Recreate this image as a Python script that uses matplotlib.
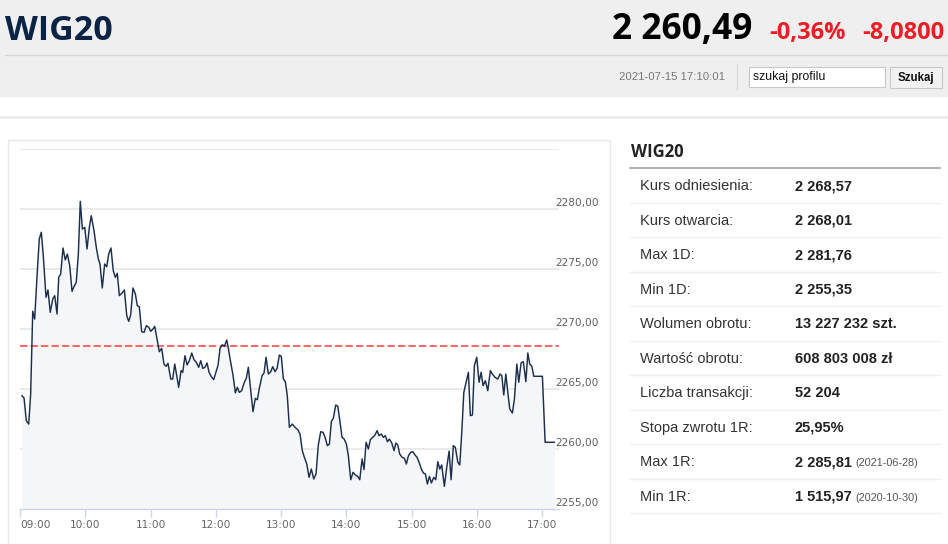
import matplotlib
matplotlib.use('Agg')
import matplotlib.pyplot as plt
from matplotlib.patches import Rectangle

# WIG20 intraday, minutes after 09:00 and index level
minutes = [
    1.8, 3.7, 5.8, 8.0, 9.8, 11.7, 13.5, 15.6, 17.7, 19.6,
    21.4, 23.9, 25.7, 27.8, 30.1, 31.9, 34.0, 35.6, 37.4, 39.5,
    41.6, 43.5, 45.7, 47.8, 49.6, 51.7, 53.6, 55.4, 57.3, 59.5,
    61.6, 63.7, 65.5, 68.0, 70.1, 72.0, 73.5, 75.6, 77.8, 79.7,
    81.5, 83.6, 85.7, 87.6, 89.4, 91.3, 93.5, 95.9, 98.1, 99.9,
    101.7, 103.8, 106.0, 107.8, 109.6, 111.8, 114.0, 116.1, 118.3, 120.1,
    122.2, 123.8, 126.2, 128.0, 130.2, 132.3, 134.2, 136.0, 138.5, 140.3,
    142.2, 144.0, 145.8, 148.0, 149.5, 151.6, 153.5, 155.6, 157.8, 159.9,
    162.0, 164.2, 166.1, 167.9, 170.0, 171.9, 173.7, 175.8, 178.0, 179.8,
    182.0, 183.8, 185.9, 187.8, 190.0, 191.8, 193.6, 195.7, 197.9, 199.7,
    201.5, 203.7, 205.9, 208.0, 209.8, 212.0, 214.1, 216.2, 218.1, 219.9,
    222.4, 224.2, 226.1, 228.2, 230.4, 232.2, 234.3, 236.2, 238.3, 240.1,
    242.0, 243.8, 245.6, 247.5, 250.2, 252.7, 255.2, 257.3, 259.4, 261.3,
    263.5, 265.6, 267.7, 269.9, 272.0, 274.1, 276.3, 278.5, 280.3, 282.4,
    284.3, 286.1, 287.9, 290.1, 292.0, 294.1, 295.9, 297.8, 299.9, 301.7,
    303.9, 306.0, 308.1, 310.3, 312.2, 314.3, 316.1, 318.0, 320.1, 321.9,
    324.1, 326.2, 328.1, 329.9, 332.0, 333.9, 335.7, 337.6, 339.4, 341.6,
    343.7, 345.3, 347.1, 348.9, 351.1, 353.2, 355.0, 356.9, 359.0, 360.9,
    363.0, 364.8, 366.7, 368.8, 370.6, 372.5, 374.3, 376.2, 378.0, 380.2,
    382.0, 383.9, 385.7, 387.5, 389.9, 392.1, 394.3, 396.1, 398.2, 400.0,
    402.3, 404.1, 405.9, 407.8, 409.9, 412.0, 413.8, 415.7, 417.5, 419.7,
    421.8, 423.7, 425.5, 427.6, 429.8, 432.2, 434.0, 436.5, 439.0, 441.1,
    442.7, 444.5, 446.4, 448.2, 450.0, 452.4, 454.3, 456.5, 458.3, 460.4,
    462.5, 464.8, 466.6, 468.4, 470.3, 472.1, 480.0, 482.5, 491.0]

values = [
    2264.44, 2264.25, 2262.36, 2262.08, 2264.58, 2271.48, 2270.83, 2274.33, 2277.50, 2278.06,
    2276.11, 2272.64, 2273.25, 2271.39, 2272.50, 2272.78, 2271.25, 2274.31, 2274.58, 2276.75,
    2275.75, 2276.25, 2275.28, 2273.14, 2273.53, 2273.89, 2276.25, 2280.64, 2278.33, 2278.47,
    2276.67, 2278.47, 2279.44, 2278.19, 2276.81, 2275.83, 2275.42, 2273.42, 2275.42, 2275.19,
    2276.25, 2276.75, 2274.86, 2274.31, 2274.64, 2272.78, 2272.97, 2273.25, 2271.11, 2270.64,
    2271.19, 2273.42, 2272.92, 2271.94, 2271.86, 2269.78, 2269.72, 2270.28, 2270.14, 2269.81,
    2270.00, 2270.22, 2269.03, 2268.11, 2268.39, 2267.08, 2266.89, 2267.14, 2265.83, 2265.83,
    2267.08, 2266.11, 2265.14, 2266.53, 2266.39, 2267.78, 2267.00, 2267.36, 2268.00, 2267.44,
    2267.22, 2266.81, 2267.36, 2266.72, 2266.81, 2267.17, 2266.39, 2266.03, 2265.78, 2266.33,
    2267.00, 2268.39, 2268.69, 2268.56, 2269.08, 2268.19, 2267.22, 2266.17, 2264.67, 2265.14,
    2264.72, 2264.86, 2265.50, 2265.92, 2266.81, 2264.86, 2263.11, 2264.22, 2264.11, 2265.06,
    2266.11, 2266.33, 2267.64, 2266.25, 2266.44, 2266.86, 2266.44, 2266.72, 2267.83, 2267.72,
    2265.83, 2265.61, 2264.44, 2261.81, 2262.08, 2261.81, 2261.61, 2261.25, 2259.86, 2259.31,
    2258.75, 2257.64, 2258.33, 2257.50, 2257.92, 2260.33, 2261.44, 2261.39, 2260.97, 2260.28,
    2260.42, 2262.31, 2262.56, 2263.67, 2263.56, 2262.22, 2260.97, 2260.83, 2260.42, 2259.44,
    2257.44, 2258.06, 2257.83, 2257.72, 2257.44, 2259.17, 2258.28, 2260.56, 2260.00, 2260.78,
    2260.97, 2261.17, 2261.53, 2261.11, 2261.25, 2260.97, 2261.11, 2260.61, 2260.83, 2260.50,
    2259.86, 2260.50, 2260.33, 2259.58, 2259.31, 2259.22, 2258.75, 2259.44, 2259.72, 2259.78,
    2259.50, 2259.31, 2258.89, 2258.33, 2258.00, 2257.92, 2257.08, 2257.72, 2257.17, 2257.64,
    2257.44, 2258.94, 2258.33, 2258.67, 2256.89, 2258.47, 2259.83, 2257.44, 2260.28, 2260.14,
    2258.89, 2258.67, 2261.39, 2264.72, 2265.56, 2266.39, 2262.78, 2262.83, 2266.94, 2267.64,
    2265.56, 2266.39, 2265.28, 2265.69, 2264.86, 2266.53, 2266.25, 2265.97, 2265.83, 2266.25,
    2266.11, 2264.50, 2266.25, 2264.72, 2263.33, 2263.00, 2264.17, 2267.08, 2265.56, 2267.17,
    2267.28, 2265.61, 2268.00, 2267.08, 2266.89, 2266.06, 2266.06, 2260.56, 2260.56]

hour_ticks = [0, 60, 120, 180, 240, 300, 360, 420, 480]
hour_labels = ['09:00', '10:00', '11:00', '12:00', '13:00', '14:00', '15:00', '16:00', '17:00']
y_levels = [2255, 2260, 2265, 2270, 2275, 2280]
y_labels = ['2255,00', '2260,00', '2265,00', '2270,00', '2275,00', '2280,00']
ref_level = 2268.57   # kurs odniesienia

index_name = 'WIG20'
last_price = '2 260,49'
change_pct = '-0,36%'
change_abs = '-8,0800'
timestamp = '2021-07-15 17:10:01'

table_labels = ['Kurs odniesienia:', 'Kurs otwarcia:', 'Max 1D:', 'Min 1D:',
                'Wolumen obrotu:', 'Wartość obrotu:', 'Liczba transakcji:',
                'Stopa zwrotu 1R:', 'Max 1R:', 'Min 1R:']
table_values = ['2 268,57', '2 268,01', '2 281,76', '2 255,35', '13 227 232 szt.',
                '608 803 008 zł', '52 204', '25,95%', '2 285,81', '1 515,97']
table_notes = ['', '', '', '', '', '', '', '', '(2021-06-28)', '(2020-10-30)']

W, H = 948, 544
fig = plt.figure(figsize=(W / 100, H / 100), dpi=100)
fig.patch.set_facecolor('white')

# page layer in pixel coordinates (y down)
page = fig.add_axes([0, 0, 1, 1])
page.set_xlim(0, W)
page.set_ylim(H, 0)
page.axis('off')

# header
page.add_patch(Rectangle((0, 0), W, 97, color='#efefef', lw=0))
page.plot([5, W], [55, 55], color='#d6d6d6', lw=1)
page.plot([0, W], [117, 117], color='#ececec', lw=2)
page.text(5, 39.5, index_name, fontsize=24.5, fontweight='bold', color='#0b2345',
          family='Open Sans', va='baseline')
page.text(752, 39.5, last_price, fontsize=25.5, fontweight='bold', color='black',
          family='Open Sans', va='baseline', ha='right')
page.text(846, 39.5, change_pct, fontsize=17, fontweight='bold', color='#ee1c25',
          family='Open Sans', va='baseline', ha='right')
page.text(944, 39.5, change_abs, fontsize=17, fontweight='bold', color='#ee1c25',
          family='Open Sans', va='baseline', ha='right')
page.text(725, 77, timestamp, fontsize=8.2, color='#777777', family='Liberation Sans',
          va='center', ha='right')
page.plot([737, 737], [64, 89], color='#d8d8d8', lw=1)
page.add_patch(Rectangle((749, 66.5), 136, 20.5, facecolor='white', edgecolor='#c8c8c8', lw=0.8))
page.text(753, 77, 'szukaj profilu', fontsize=8.8, color='#111111', family='Liberation Sans',
          va='center')
page.add_patch(Rectangle((890, 66.5), 52, 21, facecolor='#f2f2f2', edgecolor='#c8c8c8', lw=0.8))
page.text(916, 77.5, 'Szukaj', fontsize=8.3, fontweight='bold', color='#111111',
          family='Liberation Sans', va='center', ha='center')

# chart panel frame
page.add_patch(Rectangle((8.5, 140), 602, 420, facecolor='none', edgecolor='#e8e8e8', lw=1))

# side table
page.text(631, 152, index_name, fontsize=12, fontweight='bold', color='#222222',
          family='Open Sans', va='center')
page.plot([630, 940], [168, 168], color='#aaaaaa', lw=1.3)
row_h = 34.5
renderer = fig.canvas.get_renderer()
for i, (lab, val, note) in enumerate(zip(table_labels, table_values, table_notes)):
    yc = 168 + row_h * (i + 0.5) + 1
    page.plot([630, 940], [168 + row_h * (i + 1)] * 2, color='#eeeeee', lw=1)
    page.text(640, yc, lab, fontsize=10.5, color='#333333', family='Liberation Sans', va='center')
    t = page.text(795, yc, val, fontsize=10.5, fontweight='bold', color='#222222',
                  family='Liberation Sans', va='center')
    if note:
        x_end = t.get_window_extent(renderer=renderer).x1
        page.text(x_end + 4, yc + 1, note, fontsize=7.8, color='#555555',
                  family='Liberation Sans', va='center')

# the chart itself
ax = fig.add_axes([20 / W, (H - 509) / H, 539 / W, 360 / H])
ax.set_facecolor('white')
ax.set_xlim(0, 539 / 65.3 * 60)
ax.set_ylim(2255, 2285)

for lvl in y_levels[1:] + [2285]:
    ax.axhline(lvl, color='#e6e6e6', lw=1.2, zorder=1)
ax.fill_between(minutes, values, 2255, color='#f4f6f9', lw=0, zorder=2)
ax.axhline(ref_level, color='#ff4b4b', lw=1.2, dashes=(4.4, 1.9), zorder=3)
ax.plot(minutes, values, color='#1c2f4d', lw=1.05, zorder=4)

for lvl, lab in zip(y_levels, y_labels):
    ax.text(0.9926, lvl + 0.12, lab, transform=ax.get_yaxis_transform(),
            fontsize=7.6, color='#606060', family='DejaVu Sans', va='bottom', ha='left')

for s in ['top', 'right', 'left']:
    ax.spines[s].set_visible(False)
ax.spines['bottom'].set_color('#ccd6eb')
ax.spines['bottom'].set_linewidth(1)
ax.set_yticks([])
ax.set_xticks(hour_ticks)
ax.set_xticklabels(hour_labels, fontsize=7.6, color='#666666', family='DejaVu Sans')
ax.get_xticklabels()[0].set_horizontalalignment('left')
ax.tick_params(axis='x', length=6, width=1, color='#ccd6eb', pad=2)

fig.savefig('out.png', dpi=100)
